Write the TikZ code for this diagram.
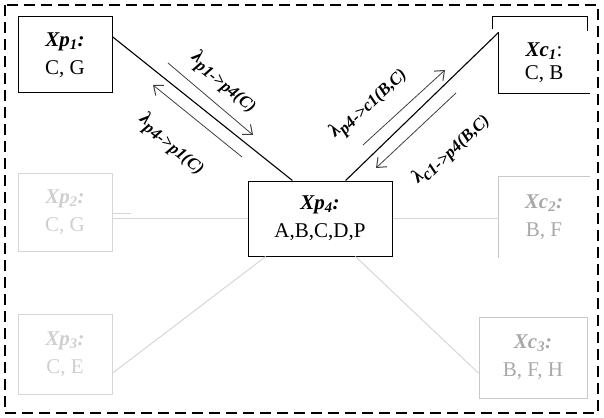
\documentclass[tikz,border=0pt]{standalone}
\usepackage{fontspec}
\setmainfont{Liberation Serif}
\usetikzlibrary{arrows.meta,calc}
\definecolor{ghostA}{HTML}{D6D6D6}
\definecolor{ghostAtext}{HTML}{CFCFCF}
\definecolor{ghostB}{HTML}{C8C8C8}
\definecolor{ghostBtext}{HTML}{A8A8A8}
\definecolor{arrowgray}{HTML}{404040}
\newcommand\bi[1]{\textbf{\textit{#1}}}
\newcommand\lamlab[1]{\bi{λ\raisebox{-0.25em}{\fontsize{17}{17}\selectfont #1}}}
\begin{document}
\begin{tikzpicture}[x=1pt,y=-1pt,
  box/.style={draw=black, line width=1pt, minimum width=94pt, minimum height=76pt,
    inner sep=0pt, align=center, font=\fontsize{21}{28}\selectfont},
  ghostp/.style={box, draw=ghostA, text=ghostAtext},
  ghostc/.style={box, draw=ghostB, text=ghostBtext},
  mainedge/.style={line width=1.1pt, black},
  greyedge/.style={line width=1pt, ghostA},
  flow/.style={line width=0.8pt, arrowgray, -{Straight Barb[length=8pt,width=13pt,line width=1pt]}},
  lab/.style={inner sep=0pt, font=\fontsize{19}{19}\selectfont}
]
\useasboundingbox (0,0) rectangle (604,417);
% outer dashed frame
\draw[line width=2.8pt, dash pattern=on 11pt off 6pt] (5,5) rectangle (598,413);

% boxes
\node[box] (p1) at (65,55) {\bi{Xp\textsubscript{1}:}\\C, G};
\node[ghostp, minimum height=78pt] (p2) at (65,212) {\bi{Xp\textsubscript{2}:}\\C, G};
\node[ghostp, minimum height=80pt] (p3) at (65,354) {\bi{Xp\textsubscript{3}:}\\C, E};
\node[box, minimum width=144pt, minimum height=75pt] (p4) at (320,218.5) {\bi{Xp\textsubscript{4}:}\\A,B,C,D,P};
\node[box, draw=none, minimum width=90pt, minimum height=60pt, font=\fontsize{21}{23}\selectfont] (c1) at (544,63) {\bi{Xc\textsubscript{1}}:\\C, B};
\node[ghostc, draw=none, minimum width=90pt, minimum height=80pt] (c2) at (544,217) {\bi{Xc\textsubscript{2}:}\\B, F};
\node[ghostc, minimum width=108pt, minimum height=81pt] (c3) at (533,357.5) {\bi{Xc\textsubscript{3}:}\\B, F, H};

% partial outlines of Xc1 and Xc2
\draw[line width=1pt] (c1.north west) -- (c1.south west) -- (c1.south east);
\draw[line width=1pt] ($(c1.north west)+(-6,-3)$) -- ($(c1.north west)+(-6,-16)$) -- ($(c1.north east)+(-2,-16)$) -- ($(c1.north east)+(-2,-1)$);
\draw[line width=1pt, ghostB] (c2.south west) -- (c2.north west) -- (c2.north east);

% connectors
\draw[mainedge] (p1.21) -- (p4.126.7);
\draw[mainedge] (c1.north west) -- (p4.56.3);
\draw[greyedge] (p4.west) -- (p4.west -| p2.east);
\draw[greyedge] ($(p2.east)+(0,1)$) -- ++(18,0);
\draw[greyedge] (p3.-22) -- (p4.215.3);
\draw[greyedge] (p4.east) -- (p4.east -| c2.west);
\draw[greyedge] (p4.-47) -- (c3.196);

% flow arrows
\coordinate (a1s) at (168,63);  \coordinate (a1e) at (253,135);
\coordinate (a2s) at (242,157); \coordinate (a2e) at (153,85);
\coordinate (a3s) at (363,145); \coordinate (a3e) at (445,70);
\coordinate (a4s) at (456,93);  \coordinate (a4e) at (376,168);
\draw[flow] (a1s) -- (a1e);
\draw[flow] (a2s) -- (a2e);
\draw[flow] (a3s) -- (a3e);
\draw[flow] (a4s) -- (a4e);

% labels
\node[lab, rotate=-38.6] (l1) at (224,82) {\lamlab{p1->p4(C)}};
\node[lab, rotate=-38.6] (l2) at (172,144) {\lamlab{p4->p1(C)}};
\node[lab, rotate=43.9] (l3) at (368,103) {\lamlab{p4->c1(B,C)}};
\node[lab, rotate=43.9] (l4) at (451,149) {\lamlab{c1->p4(B,C)}};
\end{tikzpicture}
\end{document}
